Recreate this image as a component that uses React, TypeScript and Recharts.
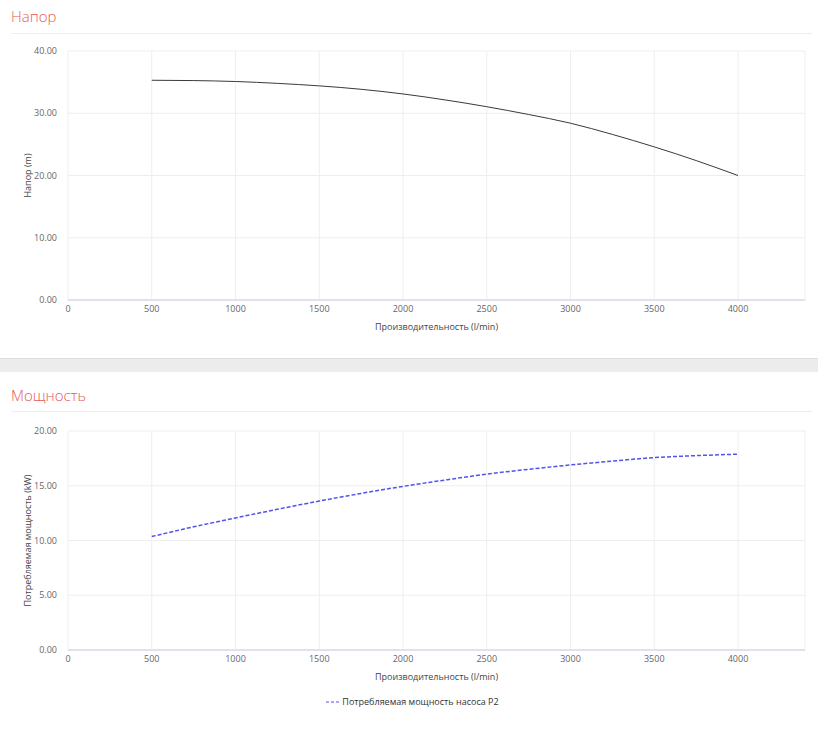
import { LineChart, Line, XAxis, YAxis, CartesianGrid, Legend } from 'recharts';

const flow = [500, 750, 1000, 1250, 1500, 1750, 2000, 2250, 2500, 2750, 3000, 3250, 3500, 3750, 4000];
const head = [35.3, 35.25, 35.1, 34.8, 34.4, 33.85, 33.1, 32.15, 31.05, 29.8, 28.4, 26.6, 24.6, 22.4, 20.0];
const power = [10.36, 11.25, 12.06, 12.85, 13.6, 14.3, 14.94, 15.52, 16.06, 16.5, 16.9, 17.25, 17.57, 17.75, 17.88];

const xTicks = [0, 500, 1000, 1500, 2000, 2500, 3000, 3500, 4000];
const headTicks = [0, 10, 20, 30, 40];
const powerTicks = [0, 5, 10, 15, 20];

const headData = flow.map((q, i) => ({ q, head: head[i] }));
const powerData = flow.map((q, i) => ({ q, power: power[i] }));

const tickStyle = { fill: '#666', fontSize: 9 };
const axisLabelStyle = { fill: '#444', fontSize: 9 };
const titleStyle: React.CSSProperties = {
  position: 'absolute',
  left: 11,
  fontSize: 15,
  color: '#e4585a',
  fontWeight: 300,
};
const ruleStyle: React.CSSProperties = {
  position: 'absolute',
  left: 11,
  width: 801,
  height: 1,
  background: '#eeeeee',
};

// legend with short dashes like the original, text kept dark
const renderLegend = (props: any) => (
  <div style={{ textAlign: 'center', fontSize: 9, paddingLeft: 20, lineHeight: '12px' }}>
    {(props.payload || []).map((entry: any) => (
      <span key={entry.value} style={{ display: 'inline-flex', alignItems: 'center' }}>
        <svg width={13} height={8} style={{ marginRight: 3 }}>
          <line x1={0} y1={4} x2={13} y2={4} stroke="#8c8cf4" strokeWidth={1.5} strokeDasharray="3 2" />
        </svg>
        <span style={{ color: '#333' }}>{entry.value}</span>
      </span>
    ))}
  </div>
);

export default function App() {
  return (
    <div
      style={{
        position: 'absolute',
        left: 0,
        top: 0,
        width: 818,
        height: 731,
        background: '#fff',
        overflow: 'hidden',
        fontFamily: '"Open Sans", sans-serif',
      }}
    >
      <div style={{ ...titleStyle, top: 6 }}>Напор</div>
      <div style={{ ...ruleStyle, top: 33 }} />

      <div style={{ position: 'absolute', left: 0, top: 40 }}>
        <LineChart width={818} height={300} data={headData} margin={{ top: 11, right: 13, left: 0, bottom: 0 }}>
          <CartesianGrid stroke="#eeeeee" />
          <XAxis
            dataKey="q"
            type="number"
            domain={[0, 4400]}
            ticks={xTicks}
            tick={tickStyle}
            tickLine={false}
            tickSize={6}
            tickMargin={0}
            axisLine={{ stroke: '#dde2ee', strokeWidth: 2 }}
            height={40}
            label={{ value: 'Производительность (l/min)', position: 'insideBottom', offset: 10, style: axisLabelStyle }}
          />
          <YAxis
            domain={[0, 40]}
            ticks={headTicks}
            tick={tickStyle}
            tickFormatter={(v: number) => v.toFixed(2)}
            tickLine={false}
            tickMargin={5}
            axisLine={false}
            width={68}
            label={{ value: 'Напор (m)', angle: -90, position: 'insideLeft', offset: 28, style: { ...axisLabelStyle, textAnchor: 'middle' } }}
          />
          <Line type="monotone" dataKey="head" stroke="#3a3a3a" strokeWidth={1} dot={false} isAnimationActive={false} />
        </LineChart>
      </div>

      <div style={{ position: 'absolute', left: 0, top: 358, width: 818, height: 1, background: '#dedede' }} />
      <div style={{ position: 'absolute', left: 0, top: 359, width: 818, height: 13, background: '#ececec' }} />

      <div style={{ ...titleStyle, top: 385 }}>Мощность</div>
      <div style={{ ...ruleStyle, top: 411 }} />

      <div style={{ position: 'absolute', left: 0, top: 420 }}>
        <LineChart width={818} height={311} data={powerData} margin={{ top: 11, right: 13, left: 0, bottom: 0 }}>
          <CartesianGrid stroke="#eeeeee" />
          <XAxis
            dataKey="q"
            type="number"
            domain={[0, 4400]}
            ticks={xTicks}
            tick={tickStyle}
            tickLine={false}
            tickSize={6}
            tickMargin={0}
            axisLine={{ stroke: '#dde2ee', strokeWidth: 2 }}
            height={40}
            label={{ value: 'Производительность (l/min)', position: 'insideBottom', offset: 10, style: axisLabelStyle }}
          />
          <YAxis
            domain={[0, 20]}
            ticks={powerTicks}
            tick={tickStyle}
            tickFormatter={(v: number) => v.toFixed(2)}
            tickLine={false}
            tickMargin={5}
            axisLine={false}
            width={68}
            label={{
              value: 'Потребляемая мощность (kW)',
              angle: -90,
              position: 'insideLeft',
              offset: 28,
              style: { ...axisLabelStyle, textAnchor: 'middle' },
            }}
          />
          <Legend verticalAlign="bottom" height={41} wrapperStyle={{ top: 276 }} content={renderLegend} />
          <Line
            type="monotone"
            dataKey="power"
            name="Потребляемая мощность насоса P2"
            stroke="#5252ee"
            strokeWidth={1.5}
            strokeDasharray="4 2"
            dot={false}
            isAnimationActive={false}
          />
        </LineChart>
      </div>
    </div>
  );
}
